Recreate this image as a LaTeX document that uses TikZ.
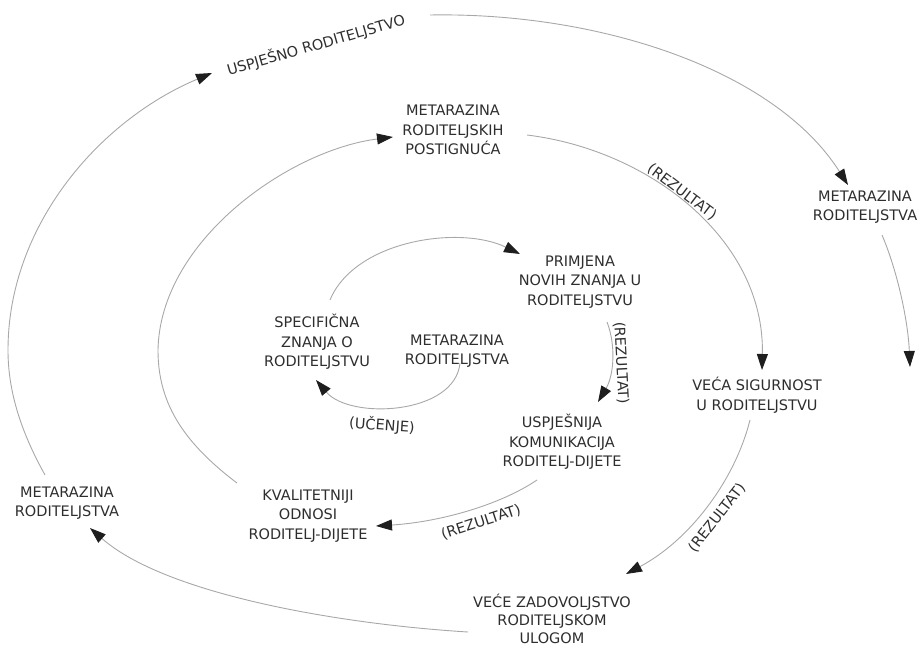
\documentclass[tikz,border=0pt]{standalone}
\usepackage{fontspec}
\setmainfont{DejaVu Sans}
\usetikzlibrary{arrows.meta}
\definecolor{txt}{HTML}{2E2E2E}
\definecolor{ln}{HTML}{A8A8A8}
\definecolor{tipc}{HTML}{1E1E1E}
\begin{document}
\begin{tikzpicture}[x=1pt,y=-1pt,
  lbl/.style={text=txt, align=center, font=\fontsize{14.5}{19.5}\selectfont, inner sep=0pt},
  conn/.style={draw=ln, line width=0.9pt, -{Triangle[length=16pt,width=11pt,color=tipc]}}]
\useasboundingbox (0,0) rectangle (921,650);

% text nodes
\node[lbl, rotate=16] (usp) at (316,45) {USPJEŠNO RODITELJSTVO};
\node[lbl] (post) at (453,130) {METARAZINA\\RODITELJSKIH\\POSTIGNUĆA};
\node[lbl] (primj) at (580,282) {PRIMJENA\\NOVIH ZNANJA U\\RODITELJSTVU};
\node[lbl] (spec) at (317,342) {SPECIFIČNA\\ZNANJA O\\RODITELJSTVU};
\node[lbl] (metac) at (457,351) {METARAZINA\\RODITELJSTVA};
\node[lbl] (kom) at (562,442) {USPJEŠNIJA\\KOMUNIKACIJA\\RODITELJ-DIJETE};
\node[lbl] (kval) at (308,516) {KVALITETNIJI\\ODNOSI\\RODITELJ-DIJETE};
\node[lbl] (metal) at (67,503) {METARAZINA\\RODITELJSTVA};
\node[lbl] (metar) at (865,207) {METARAZINA\\RODITELJSTVA};
\node[lbl] (sig) at (757,395) {VEĆA SIGURNOST\\U RODITELJSTVU};
\node[lbl, font=\fontsize{14.5}{18}\selectfont] (zad) at (552,619) {VEĆE ZADOVOLJSTVO\\RODITELJSKOM\\ULOGOM};

% edge labels
\node[lbl, rotate=-37] (r1) at (682,192) {(REZULTAT)};
\node[lbl, rotate=52] (r2) at (717,518) {(REZULTAT)};
\node[lbl, rotate=18] (r3) at (481,522) {(REZULTAT)};
\node[lbl, rotate=-87] (r4) at (621,363) {(REZULTAT)};
\node[lbl, rotate=-4] (uc) at (382,425) {(UČENJE)};

% connector end points
\coordinate (a0) at (468,632);  \coordinate (a1) at (90,528);
\coordinate (b0) at (45,475);   \coordinate (b1) at (8,350);   \coordinate (b2) at (212,73);
\coordinate (c0) at (430,15);   \coordinate (c1) at (848,185);
\coordinate (d0) at (882,235);  \coordinate (d1) at (910,367);
\coordinate (e0) at (527,135);  \coordinate (e1) at (762,370);
\coordinate (f0) at (750,420);  \coordinate (f1) at (626,574);
\coordinate (g0) at (237,483);  \coordinate (g1) at (158,350); \coordinate (g2) at (393,137);
\coordinate (h0) at (460,363);  \coordinate (h1) at (316,380);
\coordinate (i0) at (330,300);  \coordinate (i1) at (520,254);
\coordinate (j0) at (607,322);  \coordinate (j1) at (598,402);
\coordinate (k0) at (537,480);  \coordinate (k1) at (376,526);

% outer spiral
\draw[conn] (a0) .. controls (338,624) and (165,594) .. (a1);
\draw[conn] (b0) .. controls (20,430) and (8,390) .. (b1)
               .. controls (8,225) and (100,120) .. (b2);
\draw[conn] (c0) .. controls (600,12) and (775,70) .. (c1);
\draw[conn] (d0) .. controls (897,270) and (908,320) .. (d1);

% middle spiral
\draw[conn] (e0) .. controls (650,150) and (765,240) .. (e1);
\draw[conn] (f0) .. controls (735,480) and (690,540) .. (f1);
\draw[conn] (g0) .. controls (180,440) and (158,400) .. (g1)
               .. controls (160,240) and (290,150) .. (g2);

% inner spiral
\draw[conn] (h0) .. controls (455,415) and (350,420) .. (h1);
\draw[conn] (i0) .. controls (355,240) and (460,225) .. (i1);
\draw[conn] (j0) .. controls (616,345) and (614,375) .. (j1);
\draw[conn] (k0) .. controls (500,505) and (440,522) .. (k1);
\end{tikzpicture}
\end{document}
